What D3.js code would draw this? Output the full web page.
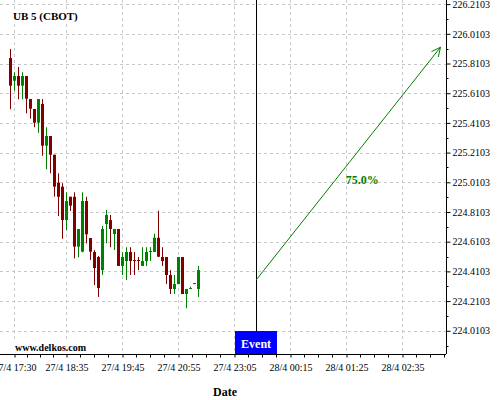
<!DOCTYPE html>
<html><head><meta charset="utf-8">
<script src="https://cdn.jsdelivr.net/npm/d3@7"></script>
<style>body{margin:0;background:#fff} svg{display:block}</style>
</head><body><svg id="c" width="500" height="400"></svg>
<script>
const title = "UB 5 (CBOT)";
const watermark = "www.delkos.com";
const xTitle = "Date";
// candle series (bar index 0..47, 5-minute bars)
const opens  = [225.847,225.694,225.726,225.661,225.726,225.571,225.504,225.412,225.538,225.257,225.322,225.196,225.008,224.981,224.756,224.913,224.913,224.577,224.543,224.884,224.635,224.541,224.507,224.419,224.729,224.756,224.662,224.696,224.447,224.480,224.541,224.487,224.487,224.447,224.480,224.541,224.541,224.637,224.507,224.507,224.386,224.292,224.325,224.507,224.258,224.292,224.325,224.292];
const highs  = [225.908,225.751,225.787,225.751,225.726,225.571,225.504,225.571,225.571,225.381,225.322,225.196,225.071,225.004,224.943,224.913,224.943,224.696,224.943,224.913,224.635,224.554,224.514,224.716,224.824,224.790,224.696,224.696,224.539,224.573,224.573,224.541,224.507,224.573,224.573,224.574,224.664,224.819,224.573,224.507,224.419,224.386,224.507,224.507,224.292,224.307,224.332,224.447];
const lows   = [225.502,225.627,225.569,225.569,225.475,225.439,225.381,225.344,225.189,225.098,225.071,224.913,224.783,224.630,224.689,224.817,224.498,224.505,224.539,224.599,224.487,224.318,224.238,224.386,224.599,224.573,224.554,224.447,224.386,224.352,224.386,224.386,224.419,224.447,224.447,224.480,224.541,224.509,224.447,224.325,224.258,224.258,224.325,224.258,224.162,224.292,224.325,224.238];
const closes = [225.661,225.726,225.661,225.726,225.573,225.506,225.412,225.571,225.257,225.322,225.196,224.981,224.913,224.756,224.884,224.853,224.577,224.696,224.884,224.660,224.543,224.433,224.298,224.696,224.790,224.696,224.696,224.447,224.507,224.541,224.480,224.480,224.480,224.480,224.541,224.548,224.637,224.509,224.480,224.386,224.292,224.325,224.507,224.258,224.292,224.298,224.332,224.419];
// x axis labels (bar index of each label)
const tickIdx = [1,14,28,42,56,70,84,98];
const tickLabels = ["27/4 17:30","27/4 18:35","27/4 19:45","27/4 20:55","27/4 23:05","28/4 00:15","28/4 01:25","28/4 02:35"];
// y axis labels
const yTickLabels = ["224.0103","224.2103","224.4103","224.6103","224.8103","225.0103","225.2103","225.4103","225.6103","225.8103","226.0103","226.2103"];
// event + forecast arrow
const eventIdx = 61.4;
const eventLabel = "Event";
const arrowFrom = [61.4, 224.352];
const arrowTo = [107.5, 225.92];
const arrowLabel = "75.0%";

const svg = d3.select("#c");
const W = 446, H = 354;
const FONT = "'Liberation Serif','Times New Roman',serif";
const x = d3.scaleLinear().domain([-2.625, 108.875]).range([0, W]);
const y = d3.scaleLinear().domain([223.854, 226.238]).range([H, 0]);
const yTicks = yTickLabels.map(Number);

svg.append("rect").attr("width",500).attr("height",400).attr("fill","#fff");

// grid
const grid = svg.append("g").attr("stroke","#c8c8c8").attr("stroke-dasharray","3,3").attr("stroke-width",1);
grid.selectAll("line.h").data(yTicks).join("line")
  .attr("x1",0).attr("x2",W).attr("y1",d=>Math.round(y(d))+0.5).attr("y2",d=>Math.round(y(d))+0.5);
grid.selectAll("line.v").data(tickIdx).join("line")
  .attr("y1",0).attr("y2",H).attr("x1",d=>Math.floor(x(d))+0.5).attr("x2",d=>Math.floor(x(d))+0.5);

// candles
const data = opens.map((o,i)=>({i,o,h:highs[i],l:lows[i],c:closes[i]}));
const cg = svg.append("g");
const col = d => d.c >= d.o ? "#008000" : "#800000";
cg.selectAll("line").data(data).join("line")
  .attr("x1",d=>x(d.i)).attr("x2",d=>x(d.i))
  .attr("y1",d=>y(d.h)).attr("y2",d=>y(d.l))
  .attr("stroke",col).attr("stroke-width",1);
cg.selectAll("rect").data(data).join("rect")
  .attr("x",d=>x(d.i)-1.5).attr("width",3)
  .attr("y",d=>y(Math.max(d.o,d.c)))
  .attr("height",d=>Math.max(1, y(Math.min(d.o,d.c))-y(Math.max(d.o,d.c))))
  .attr("fill",col);

// axes
const xAxis = d3.axisBottom(x).tickValues(tickIdx).tickFormat((d,i)=>tickLabels[i]).tickSize(3).tickPadding(6);
const gx = svg.append("g").attr("transform",`translate(0,${H+0.5})`).call(xAxis);
gx.select(".domain").attr("d",`M0,0H${W}`).attr("stroke","#000");
gx.selectAll("text").attr("font-family",FONT).attr("font-size",10).attr("fill","#000");
// minor x ticks: quarter intervals between labelled ticks, continued past the last
const minorX = [];
for (let k=0;k<tickIdx.length-1;k++){ const a=tickIdx[k], b=tickIdx[k+1]; for(let q=1;q<4;q++) minorX.push(a+(b-a)*q/4); }
for (let v=tickIdx[tickIdx.length-1]+3.5; x(v)<=W; v+=3.5) minorX.push(v);
gx.selectAll("line.minor").data(minorX).join("line").attr("class","minor")
  .attr("x1",d=>Math.floor(x(d))+0.5).attr("x2",d=>Math.floor(x(d))+0.5).attr("y1",0).attr("y2",3).attr("stroke","#000");

const yAxis = d3.axisRight(y).tickValues(yTicks).tickFormat((d,i)=>yTickLabels[i]).tickSize(4).tickPadding(2);
const gy = svg.append("g").attr("transform",`translate(${W+0.5},0)`).call(yAxis);
gy.select(".domain").attr("d",`M0,0V${H}`).attr("stroke","#000");
gy.selectAll("text").attr("font-family",FONT).attr("font-size",10).attr("fill","#000");
const minorY = yTicks.slice(0,-1).map((d,i)=>(d+yTicks[i+1])/2);
minorY.unshift(yTicks[0]-0.1);
gy.selectAll("line.minor").data(minorY).join("line").attr("class","minor")
  .attr("x1",0).attr("x2",2).attr("y1",d=>Math.round(y(d))+0.5).attr("y2",d=>Math.round(y(d))+0.5).attr("stroke","#000");

// event
const ex = x(eventIdx);
const boxW = 42, boxH = 23;
svg.append("line").attr("x1",Math.floor(ex)+0.5).attr("x2",Math.floor(ex)+0.5).attr("y1",0).attr("y2",H-boxH).attr("stroke","#000");
svg.append("rect").attr("x",Math.round(ex-boxW/2)).attr("y",H-boxH).attr("width",boxW).attr("height",boxH).attr("fill","#0000ff");
svg.append("text").attr("x",ex).attr("y",H-6).attr("text-anchor","middle")
  .attr("font-family",FONT).attr("font-size",12).attr("font-weight","bold").attr("fill","#fff").text(eventLabel);

// arrow
const ax1 = x(arrowFrom[0]), ay1 = y(arrowFrom[1]), ax2 = x(arrowTo[0]), ay2 = y(arrowTo[1]);
const ag = svg.append("g").attr("stroke","#008000").attr("stroke-width",1).attr("fill","none");
ag.append("line").attr("x1",ax1).attr("y1",ay1).attr("x2",ax2).attr("y2",ay2);
const ang = Math.atan2(ay2-ay1, ax2-ax1), hl = 10, ha = Math.PI/7;
ag.append("path").attr("d",`M${ax2-hl*Math.cos(ang-ha)},${ay2-hl*Math.sin(ang-ha)}L${ax2},${ay2}L${ax2-hl*Math.cos(ang+ha)},${ay2-hl*Math.sin(ang+ha)}`);
svg.append("text").attr("x",(ax1+ax2)/2+14).attr("y",(ay1+ay2)/2+20).attr("text-anchor","middle")
  .attr("font-family",FONT).attr("font-size",12).attr("font-weight","bold").attr("fill","#008000").text(arrowLabel);

// labels with white backgrounds
function label(txt, px, py, size){
  const g = svg.append("g");
  const r = g.append("rect").attr("fill","#fff");
  const t = g.append("text").attr("x",px).attr("y",py).attr("font-family",FONT).attr("font-size",size).attr("font-weight","bold").attr("fill","#000").text(txt);
  const b = t.node().getBBox();
  r.attr("x",b.x-1).attr("y",b.y).attr("width",b.width+2).attr("height",b.height);
}
label(title, 13, 20, 11);
label(watermark, 15, 351, 10);

svg.append("text").attr("x",W/2+2).attr("y",396).attr("text-anchor","middle")
  .attr("font-family",FONT).attr("font-size",12).attr("font-weight","bold").attr("fill","#000").text(xTitle);
</script></body></html>
